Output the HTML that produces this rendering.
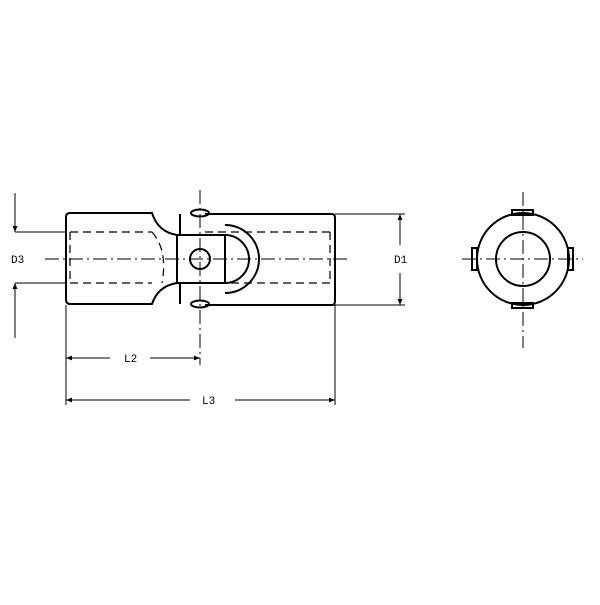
<!DOCTYPE html>
<html><head><style>body{margin:0;background:#fff}</style></head><body>
<svg width="600" height="600" viewBox="0 0 600 600" xmlns="http://www.w3.org/2000/svg" font-family="Liberation Mono, monospace" font-size="11">
<defs><marker id="a" viewBox="0 0 10 10" refX="10" refY="5" markerWidth="8" markerHeight="6" orient="auto-start-reverse"><path d="M0,1L10,5L0,9z" fill="#000"/></marker></defs>
<g fill="none" stroke="#000" stroke-width="2">
<path d="M70,213 H152 Q158,232 177,235 V283 Q158,286 152,304 H70 Q66,304 66,299 V217 Q66,213 70,213Z"/>
<path d="M205,214 H332 Q335,214 335,218 V301 Q335,305 332,305 H205"/>
<rect x="177" y="235" width="48" height="48"/>
<path d="M180,214 V235 M180,283 V304"/>
<path d="M200,235 H225 A24,24 0 0 1 225,283 H200"/>
<path d="M225,225 A34,34 0 0 1 225,293"/>
<circle cx="200" cy="259" r="10"/>
<ellipse cx="200" cy="213" rx="9" ry="3.5"/>
<ellipse cx="200" cy="304" rx="9" ry="3.5"/>
<circle cx="523" cy="259" r="46"/>
<circle cx="523" cy="259" r="27"/>
<rect x="512" y="210" width="21" height="5"/>
<rect x="512" y="303" width="21" height="5"/>
<rect x="472" y="248" width="5" height="22"/>
<rect x="568" y="248" width="5" height="22"/>
</g>
<g fill="none" stroke="#000" stroke-width="1.2" stroke-dasharray="8,5">
<path d="M70,232 H152 M70,283 H152 M205,232 H330 M205,283 H330 M70,232 V283 M330,232 V283"/>
<path d="M152,232 Q168,250 162,283"/>
</g>
<g fill="none" stroke="#000" stroke-width="1" stroke-dasharray="14,4,2,4">
<path d="M45,259 H350 M200,190 V365 M462,259 H583 M523,192 V348"/>
</g>
<g fill="none" stroke="#000" stroke-width="1">
<path d="M15,232 H66 M15,283 H66 M335,214 H405 M335,305 H405 M66,305 V405 M335,305 V405"/>
<path d="M15,193 V232" marker-end="url(#a)"/>
<path d="M15,338 V283" marker-end="url(#a)"/>
<path d="M400,245 V214" marker-end="url(#a)"/>
<path d="M400,273 V305" marker-end="url(#a)"/>
<path d="M110,358 H66" marker-end="url(#a)"/>
<path d="M150,358 H200" marker-end="url(#a)"/>
<path d="M190,400 H66" marker-end="url(#a)"/>
<path d="M235,400 H335" marker-end="url(#a)"/>
</g>
<g fill="#000">
<text x="11" y="263">D3</text>
<text x="394" y="263">D1</text>
<text x="124" y="362">L2</text>
<text x="202" y="404">L3</text>
</g>
</svg>
</body></html>
